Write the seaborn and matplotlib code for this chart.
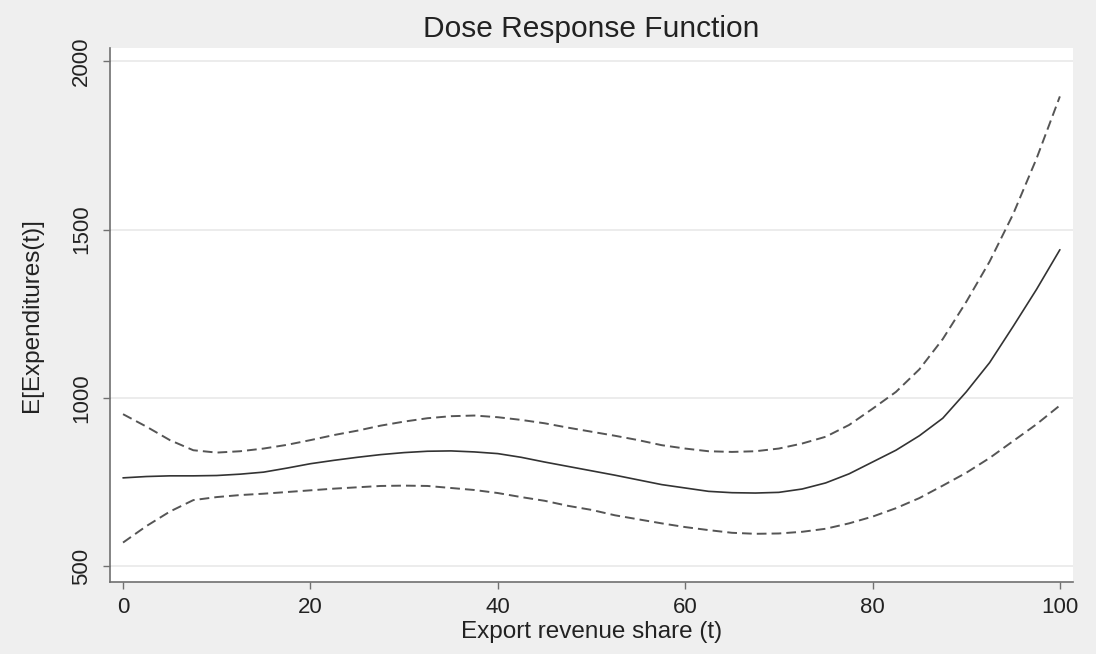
import numpy as np
import pandas as pd
import matplotlib
matplotlib.use("Agg")
import matplotlib.pyplot as plt
import seaborn as sns

# Treatment level (export revenue share, %)
dose = [0, 2.5, 5, 7.5, 10, 12.5, 15, 17.5, 20, 22.5, 25, 27.5, 30, 32.5, 35,
        37.5, 40, 42.5, 45, 47.5, 50, 52.5, 55, 57.5, 60, 62.5, 65, 67.5, 70,
        72.5, 75, 77.5, 80, 82.5, 85, 87.5, 90, 92.5, 95, 97.5, 100]

# Estimated dose response E[Expenditures(t)]
response = [763, 767, 769, 769, 770, 774, 780, 792, 805, 815, 824, 832, 838,
            842, 843, 840, 835, 824, 810, 797, 784, 771, 757, 743, 733, 723,
            719, 718, 720, 730, 748, 775, 810, 845, 888, 940, 1018, 1105, 1212,
            1322, 1440]

# Upper and lower confidence bounds
upper = [952, 915, 875, 845, 838, 842, 850, 861, 875, 890, 903, 918, 930, 940,
         946, 948, 943, 935, 925, 912, 900, 888, 875, 860, 850, 842, 840, 842,
         850, 865, 885, 920, 968, 1018, 1085, 1175, 1285, 1405, 1545, 1710,
         1895]
lower = [571, 620, 663, 697, 706, 712, 716, 721, 726, 731, 735, 739, 740, 739,
         733, 727, 718, 706, 695, 680, 668, 652, 640, 628, 617, 608, 600, 597,
         598, 603, 612, 628, 648, 673, 703, 740, 778, 822, 872, 922, 978]

y_ticks = [500, 1000, 1500, 2000]
x_ticks = [0, 20, 40, 60, 80, 100]

sns.set_theme(style="white")
plt.rcParams["font.family"] = ["Liberation Sans", "DejaVu Sans"]

bg = "#efefef"
ink = "#222222"
spine_col = "#707070"

fig = plt.figure(figsize=(10.96, 6.54), dpi=100, facecolor=bg)
ax = fig.add_axes([110 / 1096, 1 - 582 / 654, (1073 - 110) / 1096, (582 - 48) / 654])
ax.set_facecolor("white")

df = pd.DataFrame({"dose": dose, "response": response,
                   "upper": upper, "lower": lower})

sns.lineplot(data=df, x="dose", y="upper", ax=ax, color="#555555",
             linewidth=1.4, dashes=False, linestyle=(0, (5, 2.6)))
sns.lineplot(data=df, x="dose", y="lower", ax=ax, color="#555555",
             linewidth=1.4, dashes=False, linestyle=(0, (5, 2.6)))
sns.lineplot(data=df, x="dose", y="response", ax=ax, color="#333333",
             linewidth=1.2)

ax.set_xlim(-1.39, 101.4)
ax.set_ylim(454, 2038.6)
ax.set_xticks(x_ticks)
ax.set_yticks(y_ticks)
ax.set_yticklabels([str(v) for v in y_ticks], rotation=90, va="center")

ax.grid(axis="y", color="#eaeaea", linewidth=1.3)
ax.grid(axis="x", visible=False)
ax.set_axisbelow(True)

for side in ("top", "right"):
    ax.spines[side].set_visible(False)
for side in ("left", "bottom"):
    ax.spines[side].set_color(spine_col)
    ax.spines[side].set_linewidth(1.2)

ax.tick_params(axis="both", which="major", direction="out", length=5,
               width=1.0, color=spine_col, labelsize=16, labelcolor=ink,
               left=True, bottom=True)
ax.tick_params(axis="x", pad=6)
ax.tick_params(axis="y", pad=8)

ax.set_xlabel("Export revenue share (t)", fontsize=17.5, color=ink, labelpad=2)
ax.set_ylabel("E[Expenditures(t)]", fontsize=17.5, color=ink, labelpad=20)
ax.set_title("Dose Response Function", fontsize=21.5, color=ink, pad=8)

fig.savefig("out.png", dpi=100, facecolor=bg)
